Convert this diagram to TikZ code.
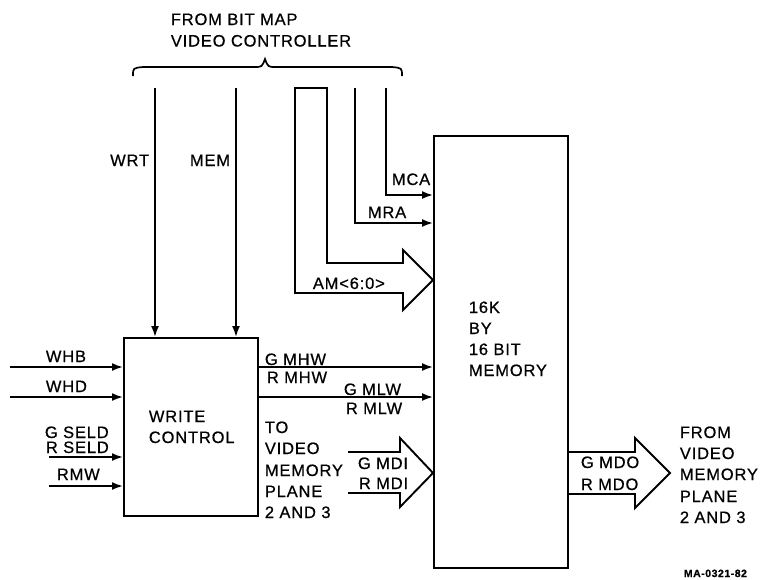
\documentclass[tikz,border=0pt]{standalone}
\usepackage{fontspec}
\setmainfont{Liberation Sans}[LetterSpace=5,FakeBold=0.6]
\usetikzlibrary{arrows.meta}
\begin{document}
\begin{tikzpicture}[x=1pt,y=-1pt, line width=1.8pt,
  lbl/.style={inner sep=0, font=\fontsize{16.5}{19}\selectfont, anchor=base west},
  lblr/.style={lbl, anchor=base east},
  sig/.style={-{Latex[length=11pt,width=8pt]}},
  blk/.style={draw, line width=2pt, inner sep=0, anchor=north west},
  bus/.style={line width=1.9pt, line join=miter}]
\useasboundingbox (0,0) rectangle (761,579);

% blocks
\node[blk, minimum width=134pt, minimum height=178pt] (wc) at (123,337) {};
\node[blk, minimum width=134pt, minimum height=432pt] (mem) at (433,135) {};

% title and brace
\node[lbl] (t1) at (170,25) {FROM BIT MAP};
\node[lbl] (t2) at (170,46.5) {VIDEO CONTROLLER};
\draw[line width=1.7pt] (133,76) .. controls (133,68) .. (143,67) -- (254,67)
  .. controls (262,67) .. (265,59) .. controls (268,67) .. (276,67) -- (392,67)
  .. controls (402,68) .. (402,76);

% free ends
\coordinate (wrtTop) at (155,88);
\coordinate (memTop) at (236,88);
\coordinate (mraTop) at (355,88);
\coordinate (mcaTop) at (386,88);
\coordinate (yMCA) at (0,195);
\coordinate (yMRA) at (0,223);
\coordinate (whbL) at (10,367);
\coordinate (whdL) at (10,397);
\coordinate (seldL) at (49,457);
\coordinate (rmwL) at (49,486);
\coordinate (yMLW) at (0,397);

% WRT / MEM
\draw[sig] (wrtTop) -- (wrtTop |- wc.north);
\draw[sig] (memTop) -- (memTop |- wc.north);
\node[lblr] (lwrt) at (150,166) {WRT};
\node[lblr] (lmem) at (231,166) {MEM};

% MCA / MRA
\draw[sig] (mcaTop) |- (mem.west |- yMCA);
\draw[sig] (mraTop) |- (mem.west |- yMRA);
\node[lbl] (lmca) at (391,185) {MCA};
\node[lbl] (lmra) at (367,218) {MRA};

% AM bus
\draw[bus] (295,88) -- (327,88) -- (327,263) -- (403,263) -- (403,250)
  -- (mem.west |- 0,280) -- (403,310) -- (403,293) -- (295,293) -- cycle;
\node[lbl] (lam) at (312,289) {AM<6:0>};

% inputs of write control
\draw[sig] (whbL) -- (wc.west |- whbL);
\draw[sig] (whdL) -- (wc.west |- whdL);
\draw[sig] (seldL) -- (wc.west |- seldL);
\draw[sig] (rmwL) -- (wc.west |- rmwL);
\node[lbl] (lwhb) at (45,362) {WHB};
\node[lbl] (lwhd) at (45,392) {WHD};
\node[lbl] (lgs) at (44,438) {G SELD};
\node[lbl] (lrs) at (45,453) {R SELD};
\node[lbl] (lrmw) at (56,480) {RMW};

\node[lbl] (w1) at (148,422) {WRITE};
\node[lbl] (w2) at (148,443) {CONTROL};

% outputs of write control
\draw[sig] (wc.east |- whbL) -- (mem.west |- whbL);
\draw[sig] (wc.east |- yMLW) -- (mem.west |- yMLW);
\node[lbl] (lgmhw) at (264,365) {G MHW};
\node[lbl] (lrmhw) at (266,383) {R MHW};
\node[lbl] (lgmlw) at (343,395) {G MLW};
\node[lbl] (lrmlw) at (345,414) {R MLW};

\node[lbl] (v1) at (264,433) {TO};
\node[lbl] (v2) at (264,454) {VIDEO};
\node[lbl] (v3) at (264,476) {MEMORY};
\node[lbl] (v4) at (264,497) {PLANE};
\node[lbl] (v5) at (264,518) {2 AND 3};

% MDI bus
\draw[bus] (348,452) -- (400,452) -- (400,438) -- (mem.west |- 0,473)
  -- (400,507) -- (400,493) -- (348,493);
\node[lbl] (lgmdi) at (357,469) {G MDI};
\node[lbl] (lrmdi) at (358,489) {R MDI};

% memory text
\node[lbl] (m1) at (468,313) {16K};
\node[lbl] (m2) at (468,334) {BY};
\node[lbl] (m3) at (468,355) {16 BIT};
\node[lbl] (m4) at (468,376) {MEMORY};

% MDO bus
\draw[bus] (mem.east |- 0,452) -- (635,452) -- (635,438) -- (670,473)
  -- (635,508) -- (635,494) -- (mem.east |- 0,494);
\node[lbl] (lgmdo) at (580,468) {G MDO};
\node[lbl] (lrmdo) at (580,490) {R MDO};

\node[lbl] (f1) at (679,438) {FROM};
\node[lbl] (f2) at (679,459) {VIDEO};
\node[lbl] (f3) at (679,480) {MEMORY};
\node[lbl] (f4) at (679,502) {PLANE};
\node[lbl] (f5) at (679,523) {2 AND 3};

\node[lbl, font=\bfseries\fontsize{10.5}{12}\selectfont] (ma) at (683,577) {MA-0321-82};
\end{tikzpicture}
\end{document}
